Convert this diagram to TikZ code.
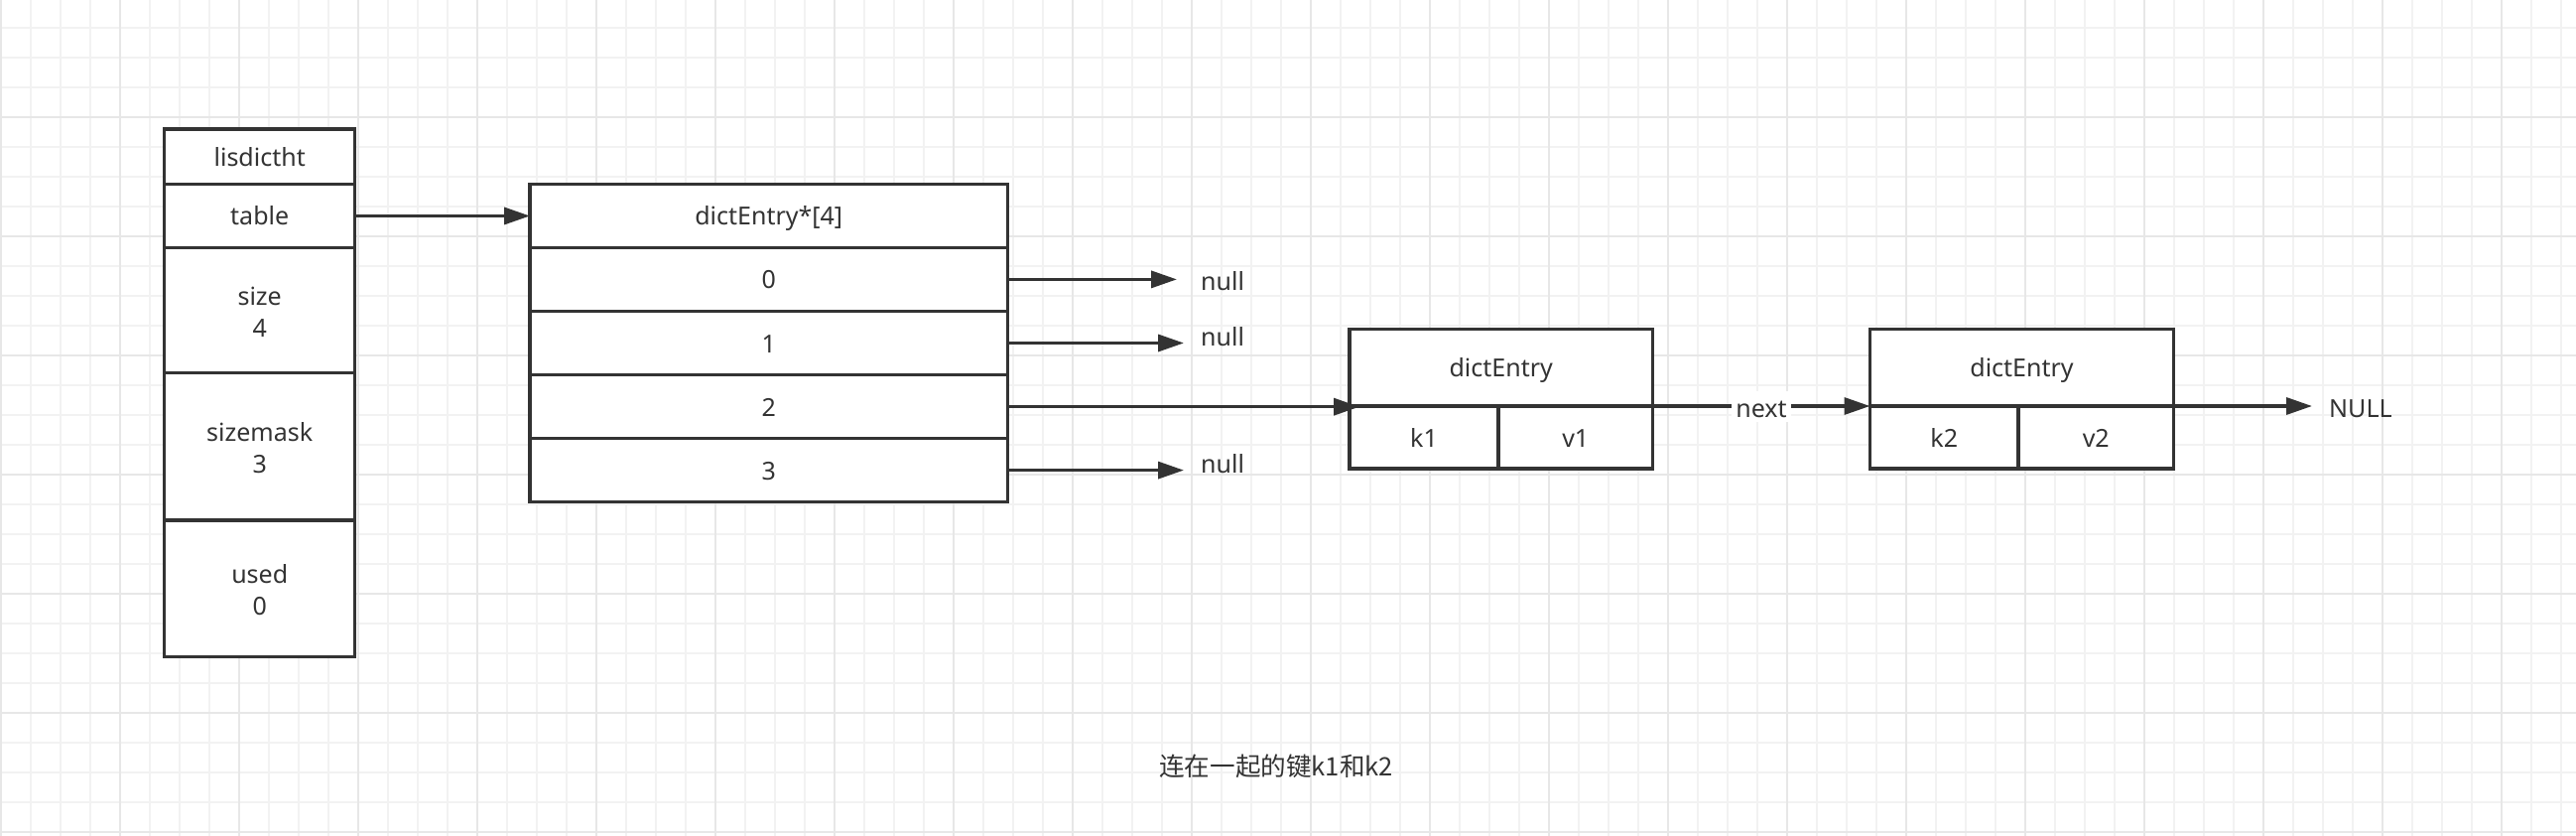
\documentclass[tikz,border=0pt]{standalone}
\usepackage{fontspec}
\setmainfont{Noto Sans}
\newfontfamily\cjkfont{Noto Sans CJK SC}
\usetikzlibrary{arrows.meta}
\definecolor{ink}{HTML}{333333}
\definecolor{gminor}{HTML}{F2F2F2}
\definecolor{gmajor}{HTML}{E7E7E7}
\tikzset{
  cell/.style={draw=ink, line width=3.5pt, fill=white, inner sep=0pt, outer sep=0pt,
    text=ink, font=\fontsize{25}{32}\selectfont, align=center,
    text height=19pt, text depth=0pt},
  celltwo/.style={cell, text height=54pt, text depth=0pt},
  conn/.style={draw=ink, line width=3.4pt, -{Triangle[length=26pt,width=17pt]}},
  lbl/.style={text=ink, font=\fontsize{25}{32}\selectfont, inner sep=0pt},
}
\begin{document}
\begin{tikzpicture}[x=1pt,y=-1pt]
\useasboundingbox (0,0) rectangle (2596,842);
\fill[white] (0,0) rectangle (2596,842);
% grid
\foreach \i in {0,...,86} \draw[gminor, line width=2pt] ({1+30*\i},0) -- ({1+30*\i},842);
\foreach \j in {0,...,28} \draw[gminor, line width=2pt] (0,{-1.7+30*\j}) -- (2596,{-1.7+30*\j});
\foreach \i in {0,...,21} \draw[gmajor, line width=2pt] ({1+120*\i},0) -- ({1+120*\i},842);
\foreach \j in {0,...,7} \draw[gmajor, line width=2pt] (0,{-1.7+120*\j}) -- (2596,{-1.7+120*\j});

% lisdictht structure
\node[cell, minimum width=192pt, minimum height=55.5pt] (hdr) at (261.7,157.75) {lisdictht};
\node[cell, minimum width=192pt, minimum height=64pt] (tbl) at (261.7,217.5) {table};
\node[celltwo, minimum width=192pt, minimum height=126.2pt] (size) at (261.7,312.6) {size\\4};
\node[celltwo, minimum width=192pt, minimum height=148.3pt] (mask) at (261.7,449.85) {sizemask\\3};
\node[celltwo, minimum width=192pt, minimum height=137.7pt] (used) at (261.7,592.85) {used\\0};

% dictEntry*[4] array
\node[cell, minimum width=481.5pt, minimum height=64pt] (arrh) at (774.75,217.5) {dictEntry*[4]};
\node[cell, minimum width=481.5pt, minimum height=63.8pt] (r0) at (774.75,281.4) {0};
\node[cell, minimum width=481.5pt, minimum height=64.4pt] (r1) at (774.75,345.5) {1};
\node[cell, minimum width=481.5pt, minimum height=64pt] (r2) at (774.75,409.7) {2};
\node[cell, minimum width=481.5pt, minimum height=63.8pt] (r3) at (774.75,473.6) {3};

% entry 1
\node[cell, minimum width=305.5pt, minimum height=77.5pt] (e1) at (1512.75,370.25) {dictEntry};
\node[cell, minimum width=150pt, minimum height=63pt] (k1) at (1435,440.5) {k1};
\node[cell, minimum width=155.5pt, minimum height=63pt] (v1) at (1587.75,440.5) {v1};

% entry 2
\node[cell, minimum width=306pt, minimum height=77.5pt] (e2) at (2037.5,370.25) {dictEntry};
\node[cell, minimum width=149.5pt, minimum height=63pt] (k2) at (1959.25,440.5) {k2};
\node[cell, minimum width=156.5pt, minimum height=63pt] (v2) at (2112.25,440.5) {v2};

% labels
\node[lbl, anchor=base west] (n0) at (1210,292) {null};
\node[lbl, anchor=base west] (n1) at (1210,348.3) {null};
\node[lbl, anchor=base west] (n3) at (1210,476.7) {null};
\node[lbl, anchor=base west] (nul) at (2347,420) {NULL};
\node[anchor=base west, inner sep=0pt, text=ink, font=\cjkfont\fontsize{25.6}{32}\selectfont] (cap) at (1168,781.5) {连在一起的键k1和k2};

% free ends
\coordinate (t0) at (1186,281.4);
\coordinate (t1) at (1193,345.5);
\coordinate (t2) at (1370,409.7);
\coordinate (t3) at (1193,473.6);
\coordinate (tn) at (2330,409);

% connectors
\draw[conn] (tbl.east) -- (arrh.west);
\draw[conn] (r0.east) -- (t0);
\draw[conn] (r1.east) -- (t1);
\draw[conn] (r2.east) -- (t2);
\draw[conn] (r3.east) -- (t3);
\draw[conn] (e1.south east) -- (e2.south west)
  node[midway, fill=white, lbl, inner sep=4pt, text height=23pt, text depth=0pt] (nextl) {next};
\draw[conn] (e2.south east) -- (tn);
\end{tikzpicture}
\end{document}
